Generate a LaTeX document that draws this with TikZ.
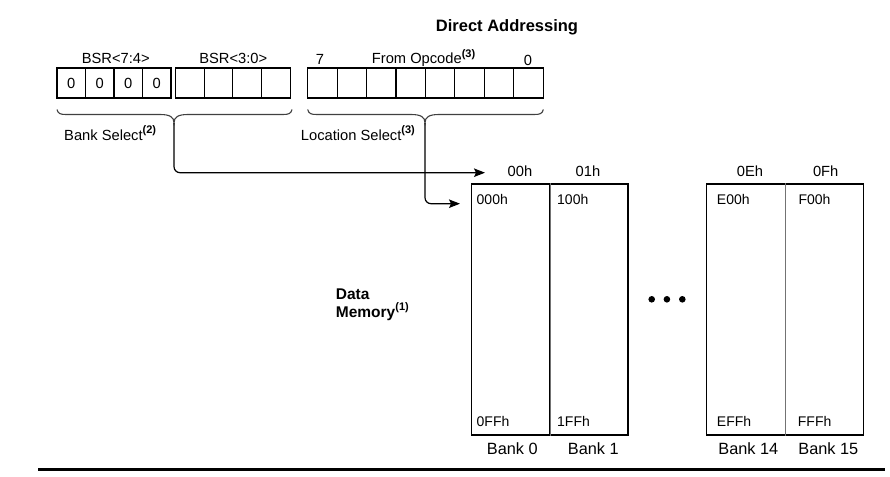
\documentclass[tikz,border=0pt]{standalone}
\usepackage{fontspec}
\setmainfont{Liberation Sans}
\usetikzlibrary{arrows.meta}
\newcommand\mysup[1]{\raisebox{0.42em}{\fontsize{11}{11}\selectfont\bfseries(#1)}}
\begin{document}
\begin{tikzpicture}[x=1pt,y=-1pt,
  txt/.style={font=\fontsize{14.7}{17}\selectfont, inner sep=0pt},
  btxt/.style={font=\fontsize{16.3}{17}\selectfont, inner sep=0pt},
  memtxt/.style={font=\fontsize{14}{17}\selectfont, inner sep=0pt, anchor=west},
  hdtxt/.style={font=\fontsize{15.5}{17}\selectfont\bfseries, inner sep=0pt, anchor=base west},
  cell/.style={draw, line width=1.1pt, minimum height=30pt, inner sep=0pt, font=\fontsize{14.7}{17}\selectfont},
  bank/.style={draw, line width=1.1pt, minimum width=78.3pt, minimum height=251pt, inner sep=0pt},
  brace/.style={line width=1.1pt, draw=black!75},
  conn/.style={line width=1.2pt, rounded corners=6pt, -{Stealth[length=11pt,width=8.5pt,inset=2pt]}}
]
\useasboundingbox (0,0) rectangle (890,476);

% title
\node[font=\fontsize{16.5}{18}\selectfont\bfseries, inner sep=0pt] (title) at (507,27) {Direct Addressing};

% BSR<7:4> cells
\foreach \i in {0,...,3}
  \node[cell, minimum width=28.5pt] (bh\i) at ({71.25+28.5*\i},83) {0};
% BSR<3:0> cells
\foreach \i in {0,...,3}
  \node[cell, minimum width=28.6pt] (bl\i) at ({190+28.6*\i},83) {};
% opcode cells
\foreach \i in {0,...,7}
  \node[cell, minimum width=29.45pt] (op\i) at ({322.4+29.45*\i},83) {};

% headings above the cells
\node[txt] (bsrh) at (115.8,58.3) {BSR<7:4>};
\node[txt] (bsrl) at (233.3,58.3) {BSR<3:0>};
\node[txt] (b7) at (320,59) {7};
\node[txt, anchor=west] (fromop) at (371.7,58.3) {From Opcode\mysup{3}};
\node[txt] (b0) at (528,60) {0};

% braces
\draw[brace] (57,109.5) .. controls (58,113.5) and (60,114.5) .. (66,114.5) -- (160,114.5)
  .. controls (170,114.5) and (174,117) .. (174,123)
  .. controls (174,117) and (178,114.5) .. (188,114.5) -- (283,114.5)
  .. controls (289,114.5) and (291,113.5) .. (292,109.5);
\coordinate (bsrtip) at (174,123);
\draw[brace] (307.7,109.5) .. controls (308.7,113.5) and (310.7,114.5) .. (316.7,114.5) -- (411,114.5)
  .. controls (421,114.5) and (425,117) .. (425,123)
  .. controls (425,117) and (429,114.5) .. (439,114.5) -- (534.3,114.5)
  .. controls (540.3,114.5) and (542.3,113.5) .. (543.3,109.5);
\coordinate (loctip) at (425,123);

\node[txt, anchor=west] (banksel) at (64,133) {Bank Select\mysup{2}};
\node[txt, anchor=west] (locsel) at (300.7,133) {Location Select\mysup{3}};

% memory banks
\node[bank] (bank0) at (510.85,309.5) {};
\node[bank] (bank1) at (588.85,309.5) {};
\node[bank] (bank14) at (746,309.5) {};
\node[bank] (bank15) at (824.5,309.5) {};
\draw[line width=1.1pt, black!55] (bank0.north east) -- (bank0.south east);
\draw[line width=1.1pt, black!55] (bank14.north east) -- (bank14.south east);

% connectors
\coordinate (arr1) at (485,172.7);
\coordinate (arr2) at (460,203.7);
\draw[conn] (bsrtip) |- (arr1);
\draw[conn] (loctip) |- (arr2);

% bank numbers
\node[txt] (h00) at (520,171.7) {00h};
\node[txt] (h01) at (588,171.7) {01h};
\node[txt] (h0E) at (750,171.7) {0Eh};
\node[txt] (h0F) at (825.7,171.7) {0Fh};

% addresses
\node[memtxt] (a000) at (476.5,199) {000h};
\node[memtxt] (a100) at (557,199) {100h};
\node[memtxt] (aE00) at (716.7,199) {E00h};
\node[memtxt] (aF00) at (798.3,199) {F00h};
\node[memtxt] (a0FF) at (476.5,421.7) {0FFh};
\node[memtxt] (a1FF) at (557,421.7) {1FFh};
\node[memtxt] (aEFF) at (716.7,421.7) {EFFh};
\node[memtxt] (aFFF) at (797.7,421.7) {FFFh};

% bank labels
\node[btxt] (l0) at (512.3,448.3) {Bank 0};
\node[btxt] (l1) at (593.3,448.3) {Bank 1};
\node[btxt] (l14) at (748.3,448.3) {Bank 14};
\node[btxt] (l15) at (828.3,448.3) {Bank 15};

% data memory label
\node[hdtxt] (dm1) at (335.7,299.8) {Data};
\node[hdtxt] (dm2) at (335.7,317.2) {Memory\mysup{1}};

% ellipsis dots
\fill (651.7,299.3) circle (3.3pt);
\fill (666.9,299.3) circle (3.3pt);
\fill (682.3,299.3) circle (3.3pt);

% bottom rule
\draw[line width=2.6pt] (38,469.3) -- (885,469.3);
\end{tikzpicture}
\end{document}
